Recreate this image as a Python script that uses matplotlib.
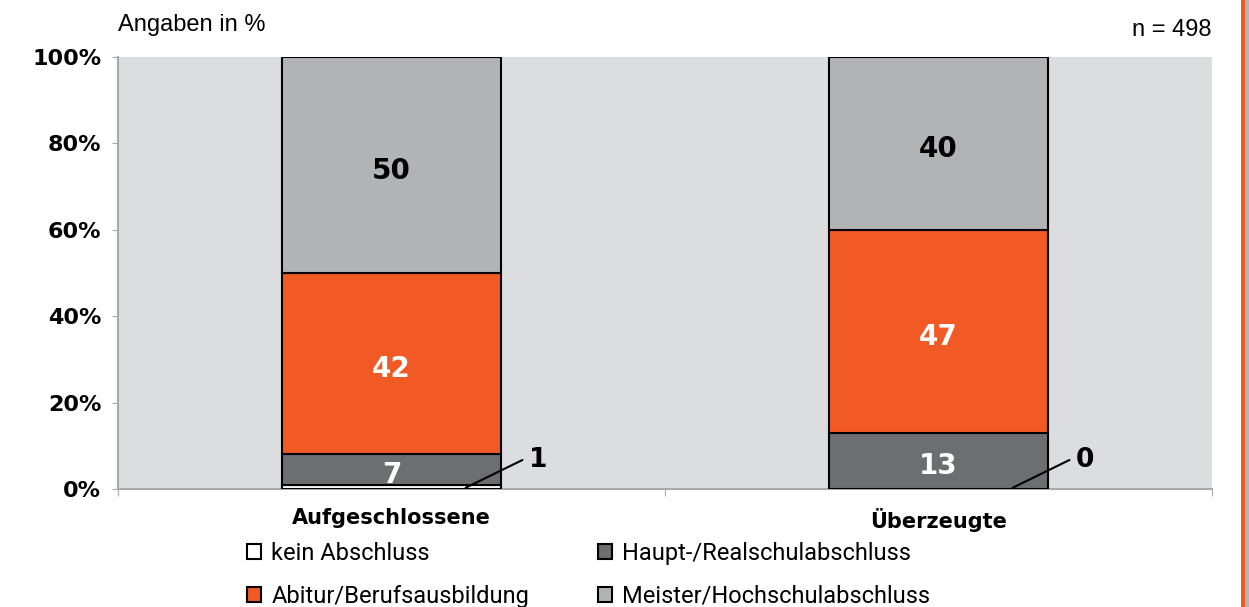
import matplotlib.pyplot as plt
from matplotlib.patches import Rectangle
import numpy as np

# Daten
categories = ['Aufgeschlossene', 'Überzeugte']
series_names = ['kein Abschluss', 'Haupt-/Realschulabschluss',
                'Abitur/Berufsausbildung', 'Meister/Hochschulabschluss']
kein = [1, 0]
haupt = [7, 13]
abitur = [42, 47]
meister = [50, 40]
yticks = [0, 20, 40, 60, 80, 100]

colors = ['#ffffff', '#6d6e71', '#f15a24', '#b1b3b6']
label_colors = [None, 'white', 'white', 'black']

fig = plt.figure(figsize=(12.49, 6.07), dpi=100)
ax = fig.add_axes([118 / 1249, 1 - 489 / 607, 1094 / 1249, 432 / 607])
ax.set_facecolor('#dcdddf')

x = np.arange(len(categories))
bottom = np.zeros(len(categories))
handles = []
for i, vals in enumerate([kein, haupt, abitur, meister]):
    vals = np.array(vals, dtype=float)
    b = ax.bar(x, vals, 0.4, bottom=bottom, color=colors[i],
               edgecolor='black', linewidth=1.5, zorder=3)
    handles.append(b)
    if label_colors[i] is not None:
        for xi, v, bt in zip(x, vals, bottom):
            ax.annotate(f'{int(v)}', xy=(xi, bt + v / 2), xytext=(0, -4),
                        textcoords='offset points', ha='center', va='center',
                        fontsize=20, fontweight='bold', color=label_colors[i],
                        family='DejaVu Sans', zorder=4)
    bottom += vals

# kleine Werte mit Hinweislinie
for xi, v in zip(x, kein):
    ax.annotate('', xy=(xi + 0.131, 0), xytext=(xi + 0.244, 7.0),
                arrowprops=dict(arrowstyle='-', color='black', lw=1.5),
                annotation_clip=False, zorder=5)
    ax.text(xi + 0.268, 6.6, f'{v}', ha='center', va='center', fontsize=19,
            fontweight='bold', color='black', family='DejaVu Sans', zorder=5)

ax.set_xlim(-0.5, 1.5)
ax.set_ylim(0, 100)
ax.set_yticks(yticks)
ax.set_yticklabels([f'{t}%' for t in yticks], fontsize=16, family='DejaVu Sans',
                   fontweight='bold')
ax.set_xticks([-0.5, 0.5, 1.5])
ax.set_xticklabels([])
ax.set_xticks(x, minor=True)
ax.set_xticklabels(categories, minor=True, fontsize=15, family='DejaVu Sans',
                   fontweight='bold')
ax.tick_params(axis='x', which='minor', length=0, pad=14)
ax.tick_params(axis='x', which='major', length=5, color='#a7a9ac')
ax.tick_params(axis='y', length=4, color='#a7a9ac', pad=8)
for s in ['top', 'right']:
    ax.spines[s].set_visible(False)
for s in ['left', 'bottom']:
    ax.spines[s].set_color('#a7a9ac')
    ax.spines[s].set_linewidth(1.5)

fig.text(118 / 1249, 1 - 25 / 607, 'Angaben in %', fontsize=17,
         family='Liberation Sans', va='center', ha='left')
fig.text(1212 / 1249, 1 - 30 / 607, 'n = 498', fontsize=17,
         family='Liberation Sans', va='center', ha='right')

leg = fig.legend([handles[0], handles[2], handles[1], handles[3]],
                 [series_names[0], series_names[2], series_names[1], series_names[3]],
                 ncol=2, loc='upper left', bbox_to_anchor=(230 / 1249, 1 - 525 / 607),
                 frameon=False, handlelength=0.6, handleheight=0.6,
                 handletextpad=0.45, columnspacing=2.9, labelspacing=0.85,
                 borderpad=0.2, prop={'family': 'Roboto', 'size': 17})

# orange Randlinie rechts
fig.add_artist(Rectangle((1241 / 1249, 0), 4 / 1249, 1, transform=fig.transFigure,
                         color='#f15a24', lw=0))
fig.add_artist(Rectangle((1245 / 1249, 0), 4 / 1249, 1, transform=fig.transFigure,
                         color='#b5b5b5', lw=0))

fig.savefig('out.png', dpi=100)
